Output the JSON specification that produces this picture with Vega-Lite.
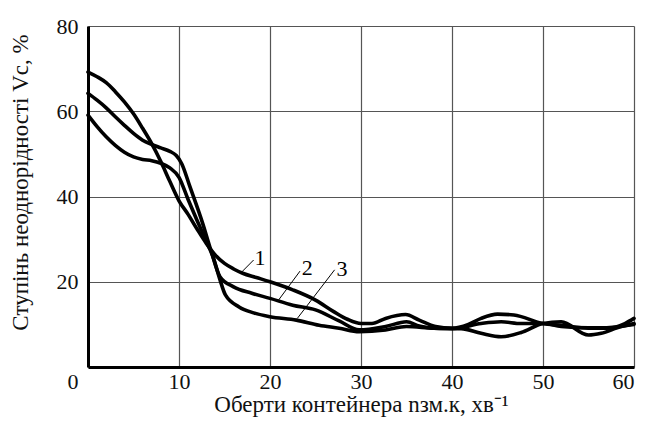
{
  "$schema": "https://vega.github.io/schema/vega-lite/v6.json",
  "width": 546,
  "height": 341,
  "autosize": {"type": "none"},
  "padding": {"left": 88, "top": 26, "right": 12, "bottom": 64},
  "background": "white",
  "config": {
    "view": {"stroke": null},
    "font": "Liberation Serif",
    "axis": {
      "labelFont": "Liberation Serif",
      "titleFont": "Liberation Serif",
      "labelFontSize": 22,
      "titleFontSize": 23,
      "labelColor": "#111",
      "titleColor": "#111",
      "titleFontWeight": "normal",
      "gridColor": "#555",
      "gridWidth": 1.2,
      "gridOpacity": 1,
      "domainColor": "#000",
      "domainWidth": 3,
      "ticks": false,
      "tickSize": 0
    }
  },
  "datasets": {
    "curves": [
      {"series": "1", "x": 0, "y": 69.2}, {"series": "1", "x": 1, "y": 68.1}, {"series": "1", "x": 2, "y": 66.7}, {"series": "1", "x": 3, "y": 64.6}, {"series": "1", "x": 4, "y": 62.2}, {"series": "1", "x": 5, "y": 59.4}, {"series": "1", "x": 6, "y": 56}, {"series": "1", "x": 7, "y": 52.4}, {"series": "1", "x": 8, "y": 48.2}, {"series": "1", "x": 9, "y": 43.5}, {"series": "1", "x": 10, "y": 39}, {"series": "1", "x": 11, "y": 35.8}, {"series": "1", "x": 12, "y": 32.3}, {"series": "1", "x": 13, "y": 29}, {"series": "1", "x": 14, "y": 26.2}, {"series": "1", "x": 15, "y": 24.3}, {"series": "1", "x": 16, "y": 23}, {"series": "1", "x": 17, "y": 22}, {"series": "1", "x": 18.5, "y": 21}, {"series": "1", "x": 20, "y": 20}, {"series": "1", "x": 22.5, "y": 18.1}, {"series": "1", "x": 25, "y": 15.7}, {"series": "1", "x": 27, "y": 13}, {"series": "1", "x": 28.5, "y": 11.2}, {"series": "1", "x": 30, "y": 10.2}, {"series": "1", "x": 31.2, "y": 10.2}, {"series": "1", "x": 32.7, "y": 11.4}, {"series": "1", "x": 34.9, "y": 12.3}, {"series": "1", "x": 36.4, "y": 11}, {"series": "1", "x": 38.2, "y": 9.5}, {"series": "1", "x": 40, "y": 9.1}, {"series": "1", "x": 41.8, "y": 10}, {"series": "1", "x": 43.2, "y": 11.4}, {"series": "1", "x": 45, "y": 12.4}, {"series": "1", "x": 46.8, "y": 12.2}, {"series": "1", "x": 50, "y": 10.2}, {"series": "1", "x": 52, "y": 9.8}, {"series": "1", "x": 55, "y": 9.1}, {"series": "1", "x": 57, "y": 9.1}, {"series": "1", "x": 59, "y": 10.2}, {"series": "1", "x": 60, "y": 11.4},
      {"series": "2", "x": 0, "y": 64.2}, {"series": "2", "x": 1, "y": 62.6}, {"series": "2", "x": 2, "y": 60.8}, {"series": "2", "x": 3, "y": 58.7}, {"series": "2", "x": 4, "y": 56.7}, {"series": "2", "x": 5, "y": 54.8}, {"series": "2", "x": 6, "y": 53.2}, {"series": "2", "x": 7, "y": 52.2}, {"series": "2", "x": 8, "y": 51.4}, {"series": "2", "x": 9, "y": 50.6}, {"series": "2", "x": 9.7, "y": 49.6}, {"series": "2", "x": 10.3, "y": 47.7}, {"series": "2", "x": 11.2, "y": 42.3}, {"series": "2", "x": 12.6, "y": 33.7}, {"series": "2", "x": 13.5, "y": 27.4}, {"series": "2", "x": 14.5, "y": 21.2}, {"series": "2", "x": 16, "y": 18.8}, {"series": "2", "x": 18, "y": 17.3}, {"series": "2", "x": 20, "y": 16.1}, {"series": "2", "x": 22.5, "y": 14.5}, {"series": "2", "x": 25, "y": 13.4}, {"series": "2", "x": 27.6, "y": 10.8}, {"series": "2", "x": 29.8, "y": 8.7}, {"series": "2", "x": 32.7, "y": 9.5}, {"series": "2", "x": 35, "y": 10.6}, {"series": "2", "x": 36.4, "y": 9.6}, {"series": "2", "x": 38, "y": 9.1}, {"series": "2", "x": 40, "y": 9}, {"series": "2", "x": 43.2, "y": 10.2}, {"series": "2", "x": 45.4, "y": 10.6}, {"series": "2", "x": 47.6, "y": 10.2}, {"series": "2", "x": 50, "y": 10.2}, {"series": "2", "x": 52, "y": 9.5}, {"series": "2", "x": 55, "y": 9.2}, {"series": "2", "x": 57, "y": 9.2}, {"series": "2", "x": 59.5, "y": 9.9}, {"series": "2", "x": 60, "y": 10.2},
      {"series": "3", "x": 0, "y": 59.1}, {"series": "3", "x": 1, "y": 56.4}, {"series": "3", "x": 2, "y": 54}, {"series": "3", "x": 3, "y": 52}, {"series": "3", "x": 4, "y": 50.4}, {"series": "3", "x": 5, "y": 49.3}, {"series": "3", "x": 6, "y": 48.7}, {"series": "3", "x": 7, "y": 48.4}, {"series": "3", "x": 8, "y": 47.8}, {"series": "3", "x": 9, "y": 46.7}, {"series": "3", "x": 10, "y": 44.5}, {"series": "3", "x": 11, "y": 39.3}, {"series": "3", "x": 12, "y": 34.3}, {"series": "3", "x": 13, "y": 29.5}, {"series": "3", "x": 13.8, "y": 25.5}, {"series": "3", "x": 14.5, "y": 20.5}, {"series": "3", "x": 15.1, "y": 16.9}, {"series": "3", "x": 16.6, "y": 14.1}, {"series": "3", "x": 18.2, "y": 12.7}, {"series": "3", "x": 20, "y": 11.8}, {"series": "3", "x": 22.9, "y": 11}, {"series": "3", "x": 25.4, "y": 9.8}, {"series": "3", "x": 27.6, "y": 9.1}, {"series": "3", "x": 29.8, "y": 8.3}, {"series": "3", "x": 32.7, "y": 8.7}, {"series": "3", "x": 35, "y": 9.5}, {"series": "3", "x": 38, "y": 9.1}, {"series": "3", "x": 41, "y": 9}, {"series": "3", "x": 43.2, "y": 7.9}, {"series": "3", "x": 45.4, "y": 7.1}, {"series": "3", "x": 47.6, "y": 8.1}, {"series": "3", "x": 50, "y": 10.2}, {"series": "3", "x": 52, "y": 10.6}, {"series": "3", "x": 55, "y": 7.5}, {"series": "3", "x": 56.4, "y": 7.9}, {"series": "3", "x": 58.6, "y": 9.5}, {"series": "3", "x": 60, "y": 10}
    ],
    "labels": [
      {"label": "1", "x": 18.9, "y": 25.5},
      {"label": "2", "x": 24.1, "y": 23.3},
      {"label": "3", "x": 27.9, "y": 23.1}
    ],
    "leaders": [
      {"x": 16.9, "y": 22.3, "x2": 18.2, "y2": 25.1},
      {"x": 20.8, "y": 15.3, "x2": 23.3, "y2": 22.5},
      {"x": 23.0, "y": 11.4, "x2": 27.1, "y2": 22.8}
    ]
  },
  "layer": [
    {
      "data": {"name": "curves"},
      "mark": {"type": "line", "interpolate": "monotone", "color": "#000", "strokeWidth": 3.6, "strokeJoin": "round", "strokeCap": "round"},
      "encoding": {
        "x": {
          "field": "x", "type": "quantitative",
          "scale": {"domain": [0, 60], "nice": false, "zero": false},
          "axis": {
            "values": [0, 10, 20, 30, 40, 50, 60],
            "labelExpr": "datum.value == 0 ? '' : datum.label",
            "labelPadding": 4,
            "title": "Оберти контейнера nзм.к, хв⁻¹",
            "titlePadding": 1,
            "grid": true
          }
        },
        "y": {
          "field": "y", "type": "quantitative",
          "scale": {"domain": [0, 80], "nice": false},
          "axis": {
            "values": [0, 20, 40, 60, 80],
            "labelPadding": 10,
            "labelOffset": {"condition": {"test": "datum.value == 0", "value": 14}, "value": 0},
            "title": "Ступінь неоднорідності   Vc, %",
            "titlePadding": 24,
            "titleY": 156,
            "grid": true
          }
        },
        "detail": {"field": "series", "type": "nominal"}
      }
    },
    {
      "data": {"name": "leaders"},
      "mark": {"type": "rule", "color": "#000", "strokeWidth": 1},
      "encoding": {
        "x": {"field": "x", "type": "quantitative"},
        "y": {"field": "y", "type": "quantitative"},
        "x2": {"field": "x2"},
        "y2": {"field": "y2"}
      }
    },
    {
      "data": {"name": "labels"},
      "mark": {"type": "text", "font": "Liberation Serif", "fontSize": 22, "color": "#000", "align": "center", "baseline": "middle"},
      "encoding": {
        "x": {"field": "x", "type": "quantitative"},
        "y": {"field": "y", "type": "quantitative"},
        "text": {"field": "label"}
      }
    }
  ]
}
